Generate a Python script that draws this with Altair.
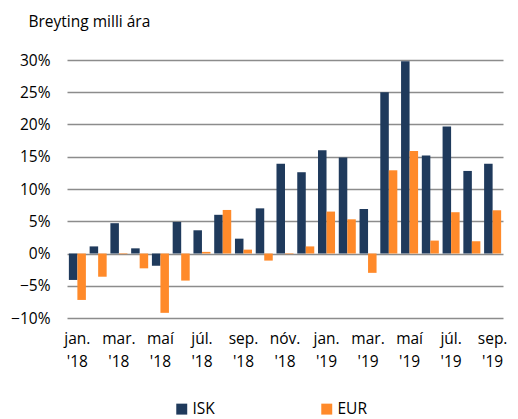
import altair as alt
import pandas as pd

months = ["jan. '18", "feb. '18", "mar. '18", "apr. '18", "maí '18", "jún. '18",
          "júl. '18", "ágú. '18", "sep. '18", "okt. '18", "nóv. '18", "des. '18",
          "jan. '19", "feb. '19", "mar. '19", "apr. '19", "maí '19", "jún. '19",
          "júl. '19", "ágú. '19", "sep. '19"]
isk = [-4.1, 1.1, 4.7, 0.8, -1.9, 4.9, 3.6, 6.0, 2.3, 7.0, 13.9, 12.6,
       16.0, 14.9, 6.9, 25.0, 29.8, 15.2, 19.7, 12.8, 13.9]
eur = [-7.2, -3.6, -0.1, -2.3, -9.2, -4.2, 0.25, 6.75, 0.6, -1.1, -0.1, 1.1,
       6.5, 5.3, -3.0, 12.9, 15.9, 2.0, 6.4, 1.9, 6.7]
series = ["ISK", "EUR"]
colors = ["#1F3A5C", "#FF8A2A"]
yticks = [-10, -5, 0, 5, 10, 15, 20, 25, 30]

rows = []
for i, m in enumerate(months):
    rows.append({"idx": i, "month": m, "series": "ISK", "value": isk[i] / 100})
    rows.append({"idx": i, "month": m, "series": "EUR", "value": eur[i] / 100})
df = pd.DataFrame(rows)

FONT = "Open Sans"

chart = alt.Chart(df).mark_bar().encode(
    x=alt.X("month:N", sort=months,
            scale=alt.Scale(paddingInner=0.18, paddingOuter=0.09),
            axis=alt.Axis(title=None, labelAngle=0, ticks=False, domain=False,
                          values=months[::2],
                          labelPadding=13, labelFontSize=15.5, labelColor="#000",
                          labelFont=FONT, labelLineHeight=23,
                          labelExpr="split(datum.value, ' ')")),
    xOffset=alt.XOffset("series:N", sort=series),
    y=alt.Y("value:Q",
            scale=alt.Scale(domain=[-0.10, 0.30], nice=False),
            axis=alt.Axis(values=[v / 100 for v in yticks], format=".0%",
                          ticks=False, domain=False, labelPadding=17,
                          labelFontSize=15.5, labelColor="#000", labelFont=FONT,
                          gridColor="#8c8c8c", gridWidth=1.5,
                          title="Breyting milli ára", titleAngle=0,
                          titleAlign="left", titleBaseline="middle",
                          titleX=-39, titleY=-39, titleFontSize=15.5,
                          titleFontWeight="normal", titleFont=FONT, titleColor="#000")),
    color=alt.Color("series:N", sort=series,
                    scale=alt.Scale(domain=series, range=colors),
                    legend=alt.Legend(title=None, orient="none", direction="horizontal",
                                      legendX=107, legendY=341, symbolType="square",
                                      symbolSize=120, symbolStrokeWidth=0,
                                      labelFontSize=15.5, labelFont=FONT, labelColor="#000",
                                      columnPadding=104, labelOffset=3)),
).properties(
    width=436, height=258,
    autosize=alt.AutoSizeParams(type="none"),
    padding={"left": 59, "top": 52, "right": 7, "bottom": 101},
).configure_view(stroke=None)

chart.save("out.html", embed_options={"renderer": "svg", "actions": False})
